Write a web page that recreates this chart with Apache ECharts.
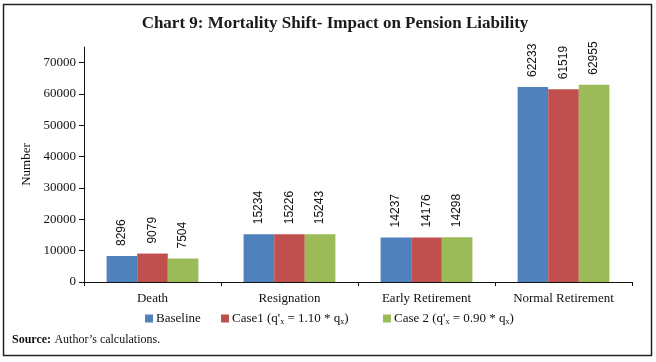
<!DOCTYPE html>
<html><head><meta charset="utf-8">
<script src="https://cdn.jsdelivr.net/npm/echarts@6/dist/echarts.min.js"></script>
<style>html,body{margin:0;padding:0;background:#fff}#c{width:656px;height:362px}</style>
</head><body><div id="c"></div>
<script>
const categories = ['Death', 'Resignation', 'Early Retirement', 'Normal Retirement'];
const baseline = [8296, 15234, 14237, 62233];
const case1 = [9079, 15226, 14176, 61519];
const case2 = [7504, 15243, 14298, 62955];
const yTicks = [0, 10000, 20000, 30000, 40000, 50000, 60000, 70000];
const seriesNames = ['Baseline', 'Case1', 'Case2'];

const serif = '"Liberation Serif","Times New Roman",serif';
const chart = echarts.init(document.getElementById('c'), null, {renderer: 'canvas'});
const lbl = {
  show: true, position: 'top', rotate: 90, align: 'left', verticalAlign: 'middle',
  distance: 10, fontFamily: '"Liberation Sans",Arial,sans-serif', fontSize: 12, color: '#111'
};
const richLegend = {
  t: {fontFamily: serif, fontSize: 13, color: '#111'},
  s: {fontFamily: serif, fontSize: 8, color: '#111', verticalAlign: 'bottom', padding: [6, 0, 0, 0]}
};
const legendFmt = function (n) {
  if (n === 'Baseline') return '{t|Baseline}';
  if (n === 'Case1') return "{t|Case1 (q'}{s|x}{t| = 1.10 * q}{s|x}{t|)}";
  return "{t|Case 2 (q'}{s|x}{t| = 0.90 * q}{s|x}{t|)}";
};
const legendLefts = [140, 216, 378];
chart.setOption({
  animation: false,
  title: {
    text: 'Chart 9: Mortality Shift- Impact on Pension Liability',
    left: 330, top: 10, textAlign: 'center',
    textStyle: {fontFamily: serif, fontWeight: 'bold', fontSize: 17, color: '#1a1a1a'}
  },
  graphic: [
    {type: 'rect', shape: {x: 3.5, y: 4.5, width: 648, height: 351}, style: {fill: 'none', stroke: '#222', lineWidth: 1.5}, silent: true},
    {type: 'text', left: 12, top: 334, style: {
      text: '{b|Source:} {n|Author’s calculations.}',
      rich: {b: {fontFamily: serif, fontSize: 12, fontWeight: 'bold', fill: '#111'}, n: {fontFamily: serif, fontSize: 12, fill: '#111'}}
    }}
  ],
  legend: seriesNames.map((n, i) => ({
    left: legendLefts[i], top: 307, itemWidth: 8, itemHeight: 8, icon: 'rect',
    textStyle: {fontFamily: serif, fontSize: 13, color: '#111', padding: [0, 0, 0, -2], rich: richLegend},
    data: [n], formatter: legendFmt
  })),
  grid: {left: 84, right: 24, top: 47, bottom: 80, containLabel: false},
  xAxis: {
    type: 'category', data: categories, boundaryGap: true,
    axisLine: {lineStyle: {color: '#111', width: 1}},
    axisTick: {show: true, length: 4, lineStyle: {color: '#111'}},
    axisLabel: {fontFamily: serif, fontSize: 13, color: '#111', margin: 10}
  },
  yAxis: {
    type: 'value', min: 0, max: 75000, interval: 10000,
    name: 'Number', nameLocation: 'middle', nameGap: 50,
    nameTextStyle: {fontFamily: serif, fontSize: 13, color: '#111'},
    axisLine: {show: true, lineStyle: {color: '#111', width: 1}},
    axisTick: {show: true, length: 5, lineStyle: {color: '#111'}, customValues: yTicks},
    axisLabel: {fontFamily: serif, fontSize: 13, color: '#111', margin: 8, customValues: yTicks,
      formatter: v => String(v)},
    splitLine: {show: false}
  },
  series: [
    {name: 'Baseline', type: 'bar', data: baseline, itemStyle: {color: '#4F81BD'}, label: lbl, barGap: '0%', barCategoryGap: '33%'},
    {name: 'Case1', type: 'bar', data: case1, itemStyle: {color: '#C0504D'}, label: lbl, barGap: '0%', barCategoryGap: '33%'},
    {name: 'Case2', type: 'bar', data: case2, itemStyle: {color: '#9BBB59'}, label: lbl, barGap: '0%', barCategoryGap: '33%'}
  ]
});
</script></body></html>
